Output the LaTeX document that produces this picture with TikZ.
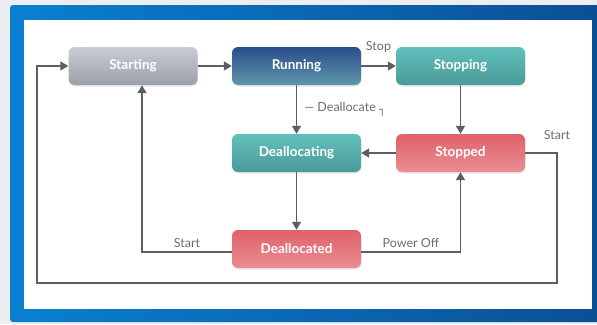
\documentclass[tikz,border=0pt]{standalone}
\usepackage{fontspec}
\setmainfont{Lato}
\newfontfamily\boxfont{DejaVu Sans}
\usetikzlibrary{arrows.meta,shadows}

\definecolor{pagegray}{HTML}{ECEEF1}
\definecolor{frameleft}{HTML}{0A80D2}
\definecolor{frameright}{HTML}{0B4F94}
\definecolor{linegray}{HTML}{5B5E64}
\definecolor{labelgray}{HTML}{6A6D72}
\definecolor{greytop}{HTML}{C8CDD4}
\definecolor{greybot}{HTML}{9CA1A9}
\definecolor{bluetop}{HTML}{2A4C8A}
\definecolor{bluebot}{HTML}{5F97AC}
\definecolor{tealtop}{HTML}{62C0BC}
\definecolor{tealbot}{HTML}{4A9A98}
\definecolor{redtop}{HTML}{E0616A}
\definecolor{redbot}{HTML}{E98D93}

\begin{document}
\begin{tikzpicture}
	[x=1pt, y=-1pt,
	 state/.style={rectangle, rounded corners=6pt, minimum width=129pt, minimum height=38pt,
	   text=white, font=\bfseries\fontsize{13.5}{16}\selectfont,
	   drop shadow={opacity=0.18, shadow xshift=0.5pt, shadow yshift=-1.5pt}},
	 greystate/.style={state, top color=greytop, bottom color=greybot},
	 bluestate/.style={state, top color=bluetop, bottom color=bluebot},
	 tealstate/.style={state, top color=tealtop, bottom color=tealbot},
	 redstate/.style={state, top color=redtop, bottom color=redbot},
	 link/.style={draw=linegray, line width=1.7pt, -{Triangle[length=8pt, width=9pt]}},
	 lbl/.style={text=labelgray, font=\fontsize{12.5}{15}\selectfont, inner sep=1pt}]

	% page and frame
	\useasboundingbox (0,0) rectangle (597,324);
	\fill[pagegray] (0,0) rectangle (597,324);
	\shade[left color=frameleft, right color=frameright, rounded corners=3pt] (10,5) rectangle (604,322);
	\fill[white] (24,20) rectangle (592,309);

	% states
	\node[greystate] (starting) at (133,66) {Starting};
	\node[bluestate] (running) at (296.5,66) {Running};
	\node[tealstate] (stopping) at (460.5,66) {Stopping};
	\node[tealstate] (deallocating) at (296.5,153) {Deallocating};
	\node[redstate] (stopped) at (460.5,153) {Stopped};
	\node[redstate] (deallocated) at (296.5,249) {Deallocated};

	\coordinate (loopR) at (557,283);
	\coordinate (loopL) at (37,283);

	% transitions
	\draw[link] (starting) -- (running);
	\draw[link] (running) -- node[lbl, above=12pt] {Stop} (stopping);
	\draw[link] (running) -- node[lbl, right=6pt] {— Deallocate \raisebox{-1.5pt}{\boxfont\fontsize{11}{13}\selectfont ┐}} (deallocating);
	\draw[link] (stopping) -- (stopped);
	\draw[link] (stopped) -- (deallocating);
	\draw[link] (deallocating) -- (deallocated);
	\draw[link] ([yshift=-3pt]deallocated.west) -| node[lbl, above=3pt, pos=0.25] {Start} ([xshift=9pt]starting.south);
	\draw[link] ([yshift=-3pt]deallocated.east) -| node[lbl, above=3pt, pos=0.25] {Power Off} (stopped.south);
	\draw[link] (stopped.east) -| node[lbl, above=12pt, pos=0.5] {Start} (loopR) -- (loopL) |- (starting.west);
\end{tikzpicture}
\end{document}
